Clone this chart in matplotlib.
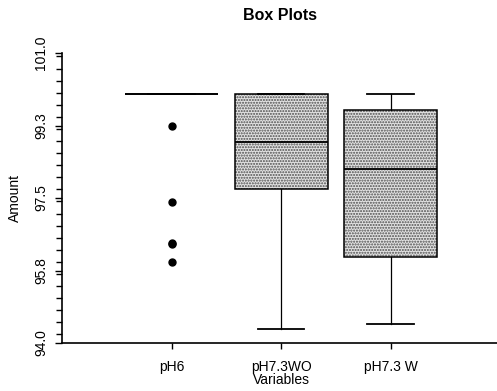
import matplotlib
matplotlib.use("Agg")
import matplotlib.pyplot as plt
from matplotlib.ticker import FixedLocator, MultipleLocator

plt.rcParams['font.family'] = ['Liberation Sans', 'DejaVu Sans']
plt.rcParams['hatch.linewidth'] = 1.0

categories = ["pH6", "pH7.3WO", "pH7.3 W"]
whisker_low = [100.0, 94.34, 94.45]
quartile_1 = [100.0, 97.72, 96.07]
medians = [100.0, 98.84, 98.19]
quartile_3 = [100.0, 100.0, 99.63]
whisker_high = [100.0, 100.0, 100.0]
outliers = [[99.25, 97.4, 96.42, 96.38, 95.96], [], []]
ytick_values = [94.0, 95.75, 97.5, 99.25, 101.0]
ytick_labels = ["94.0", "95.8", "97.5", "99.3", "101.0"]

stats = []
for i, name in enumerate(categories):
    stats.append(dict(label=name, whislo=whisker_low[i], q1=quartile_1[i],
                      med=medians[i], q3=quartile_3[i], whishi=whisker_high[i],
                      fliers=outliers[i]))

W, H = 497, 391
fig = plt.figure(figsize=(W / 100, H / 100), dpi=100)
ax = fig.add_axes([62 / W, 1 - 343 / H, 1 - 62 / W, (343 - 53) / H])

bp = ax.bxp(stats, positions=[1, 2, 3], widths=0.85, patch_artist=True,
            boxprops=dict(facecolor="#e2e2e2", edgecolor="black", linewidth=1.1,
                          hatch="......"),
            medianprops=dict(color="black", linewidth=1.3),
            whiskerprops=dict(color="black", linewidth=0.9),
            capprops=dict(color="black", linewidth=1.3),
            flierprops=dict(marker="o", markerfacecolor="black",
                            markeredgecolor="black", markersize=5))
for box in bp["boxes"]:
    box.set_edgecolor("black")
    box._hatch_color = (0.3, 0.3, 0.3, 1.0)

ax.set_xlim(0, 3.97)
ax.set_ylim(94.0, 101.0)
ax.yaxis.set_major_locator(FixedLocator(ytick_values))
ax.set_yticklabels(ytick_labels, rotation=90, va="center", fontsize=10)
ax.yaxis.set_minor_locator(MultipleLocator(1.75 / 6))
ax.tick_params(axis="y", which="major", length=5, width=1, direction="out", pad=5)
ax.tick_params(axis="y", which="minor", length=4, width=1, direction="out")
ax.set_xticks([1, 2, 3])
ax.set_xticklabels(categories, fontsize=10)
ax.tick_params(axis="x", length=4, width=1, direction="out", pad=8)

for side in ("top", "right"):
    ax.spines[side].set_visible(False)
ax.spines["left"].set_linewidth(1.2)
ax.spines["bottom"].set_linewidth(1.2)

ax.set_xlabel("Variables", fontsize=10)
ax.xaxis.set_label_coords((281 - 62) / 435, (343 - 373) / 290)
ax.set_ylabel("Amount", fontsize=10)
ax.yaxis.set_label_coords((22 - 62) / 435, 0.5)
fig.text(280 / W, 1 - 16 / H, "Box Plots", ha="center", va="center",
         fontsize=11.5, fontweight="bold")

fig.savefig("out.png", dpi=100)
